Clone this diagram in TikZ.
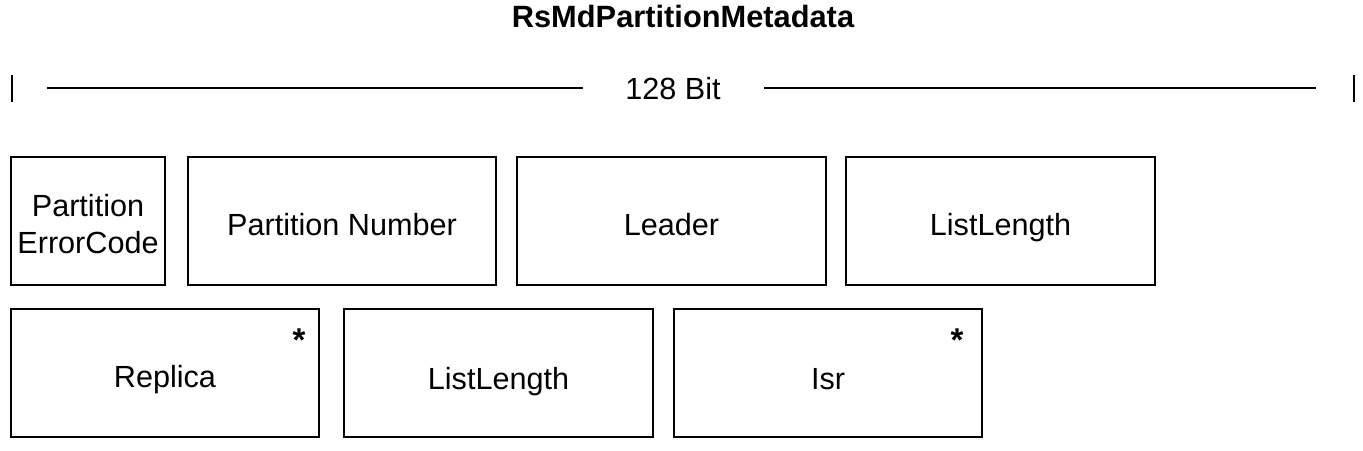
\documentclass[tikz,border=0pt]{standalone}
\usepackage{fontspec}
\setmainfont{Liberation Sans}
\begin{document}
\begin{tikzpicture}[x=1pt,y=-1pt,
  field/.style={draw=black,line width=2pt,minimum height=128pt,inner sep=0pt},
  lbl/.style={font=\fontsize{30.6}{37}\selectfont,inner sep=0pt,anchor=base,align=center},
  rule/.style={line width=2pt},
  star/.style={font=\bfseries\fontsize{33}{36}\selectfont,inner sep=0pt}]
\useasboundingbox (0,0) rectangle (1363,450);
\node[font=\bfseries\fontsize{30.8}{36}\selectfont,inner sep=0pt,anchor=base] (title) at (683,27) {RsMdPartitionMetadata};
\node[lbl] (bits) at (673,99) {128 Bit};
\coordinate (lt1) at (12,75); \coordinate (lt2) at (12,102);
\coordinate (rt1) at (1354,75); \coordinate (rt2) at (1354,102);
\coordinate (l1) at (47,88); \coordinate (l2) at (583,88);
\coordinate (r1) at (764,88); \coordinate (r2) at (1316,88);
\draw[rule] (lt1) -- (lt2);
\draw[rule] (rt1) -- (rt2);
\draw[rule] (l1) -- (l2);
\draw[rule] (r1) -- (r2);
\node[field,minimum width=154pt] (pec) at (88,221) {};
\node[field,minimum width=308pt] (pn) at (342,221) {};
\node[field,minimum width=309pt] (leader) at (671.5,221) {};
\node[field,minimum width=309pt] (ll1) at (1000.5,221) {};
\node[field,minimum width=308pt] (rep) at (165,373) {};
\node[field,minimum width=309pt] (ll2) at (498.5,373) {};
\node[field,minimum width=308pt] (isr) at (828,373) {};
\node[lbl] (pect) at (88,216) {Partition};
\node[lbl] (pecb) at (88,253) {ErrorCode};
\node[lbl] (pnt) at (342,235) {Partition Number};
\node[lbl] (leadert) at (671.5,235) {Leader};
\node[lbl] (ll1t) at (1000.5,235) {ListLength};
\node[lbl] (rept) at (165,387) {Replica};
\node[lbl] (ll2t) at (498.5,389) {ListLength};
\node[lbl] (isrt) at (828,389) {Isr};
\node[star] (s1) at (299,340) {*};
\node[star] (s2) at (957,340) {*};
\end{tikzpicture}
\end{document}
